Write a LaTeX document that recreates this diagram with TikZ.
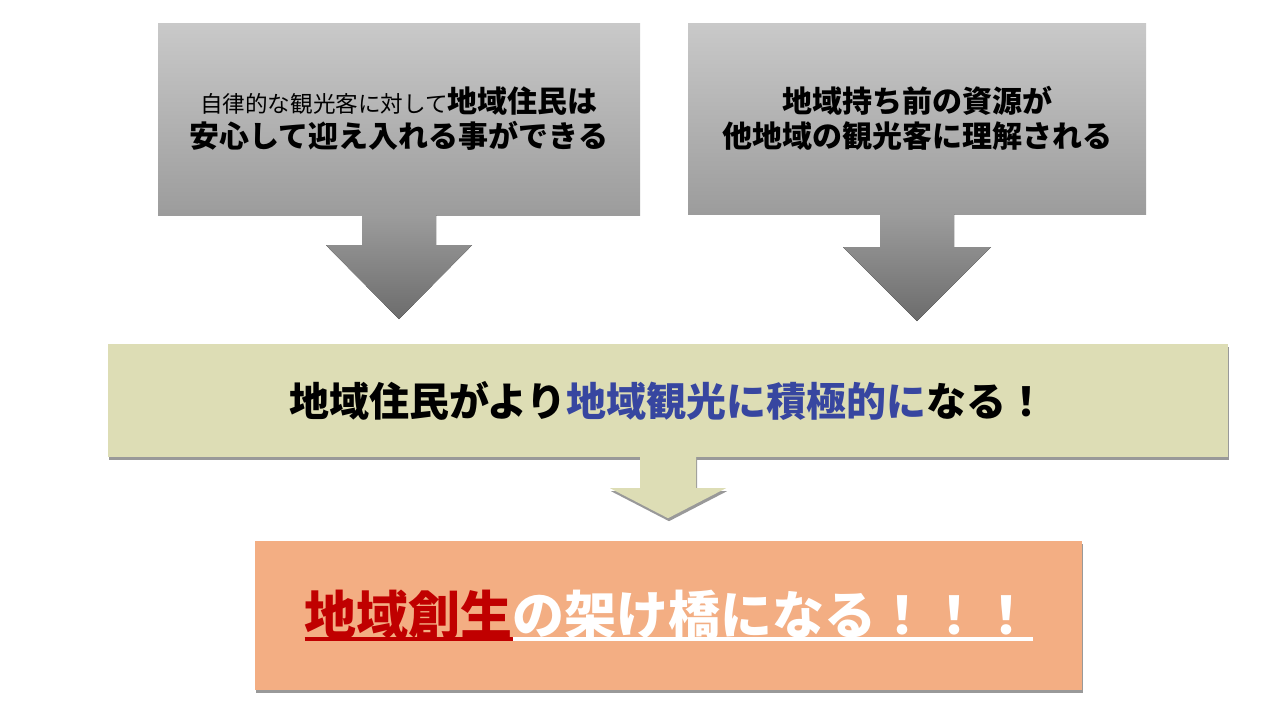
\documentclass[tikz,border=0pt]{standalone}
\usepackage{fontspec}
\setmainfont{Noto Sans CJK JP}
\usetikzlibrary{calc,shadows}
\definecolor{boxtop}{RGB}{201,201,201}
\definecolor{boxbot}{RGB}{156,156,156}
\definecolor{arrbot}{RGB}{108,108,108}
\definecolor{olivebar}{RGB}{221,221,181}
\definecolor{salmon}{RGB}{243,174,131}
\definecolor{inkblue}{RGB}{55,70,160}
\definecolor{deepred}{RGB}{192,0,0}
\newcommand\ulbar[1]{\setbox0=\hbox{#1}\rlap{\rule[-6pt]{\wd0}{3.5pt}}\box0}
\tikzset{
  graybox/.style={top color=boxtop, bottom color=boxbot, inner sep=0pt, align=center,
    font=\bfseries\fontsize{30}{35}\selectfont},
  grayarrow/.style={top color=boxbot, bottom color=arrbot},
  softshadow/.style={drop shadow={shadow xshift=1pt, shadow yshift=-3pt, opacity=0.4, fill=black}}
}
\begin{document}
\begin{tikzpicture}[x=1pt,y=-1pt]
\useasboundingbox (0,0) rectangle (1280,720);
% top boxes
\node[graybox, minimum width=482pt, minimum height=192pt] (lbox) at (399,119)
  {{\mdseries\fontsize{22.6}{35}\selectfont 自律的な観光客に対して}地域住民は\\安心して迎え入れる事ができる};
\node[graybox, minimum width=458pt, minimum height=191pt] (rbox) at (917,118.5)
  {地域持ち前の資源が\\他地域の観光客に理解される};
\fill[grayarrow] ($(lbox.south)+(-37,0)$) -- ($(lbox.south)+(-37,30)$) -- ($(lbox.south)+(-73,30)$)
  -- ($(lbox.south)+(0,104)$) -- ($(lbox.south)+(73,30)$) -- ($(lbox.south)+(37,30)$)
  -- ($(lbox.south)+(37,0)$) -- cycle;
\fill[grayarrow] ($(rbox.south)+(-37,0)$) -- ($(rbox.south)+(-37,33)$) -- ($(rbox.south)+(-74,33)$)
  -- ($(rbox.south)+(0,107)$) -- ($(rbox.south)+(74,33)$) -- ($(rbox.south)+(37,33)$)
  -- ($(rbox.south)+(37,0)$) -- cycle;
% middle bar
\node[fill=olivebar, softshadow, minimum width=1120pt, minimum height=113pt, inner sep=0pt,
  font=\bfseries\fontsize{40}{44}\selectfont] (bar) at (668,400.5)
  {地域住民がより\textcolor{inkblue}{地域観光に積極的に}なる！};
\fill[olivebar, softshadow] ($(bar.south)+(-28,0)$) -- ($(bar.south)+(-28,31)$) -- ($(bar.south)+(-58,31)$)
  -- ($(bar.south)+(0,61)$) -- ($(bar.south)+(58,31)$) -- ($(bar.south)+(28,31)$)
  -- ($(bar.south)+(28,0)$) -- cycle;
% bottom box
\node[fill=salmon, softshadow, minimum width=827pt, minimum height=149pt, inner sep=0pt,
  text=white, font=\bfseries\fontsize{52}{56}\selectfont] (goal) at (668.5,615.5)
  {\textcolor{deepred}{\ulbar{地域創生}}\ulbar{の架け橋になる！！！}};
\end{tikzpicture}
\end{document}
